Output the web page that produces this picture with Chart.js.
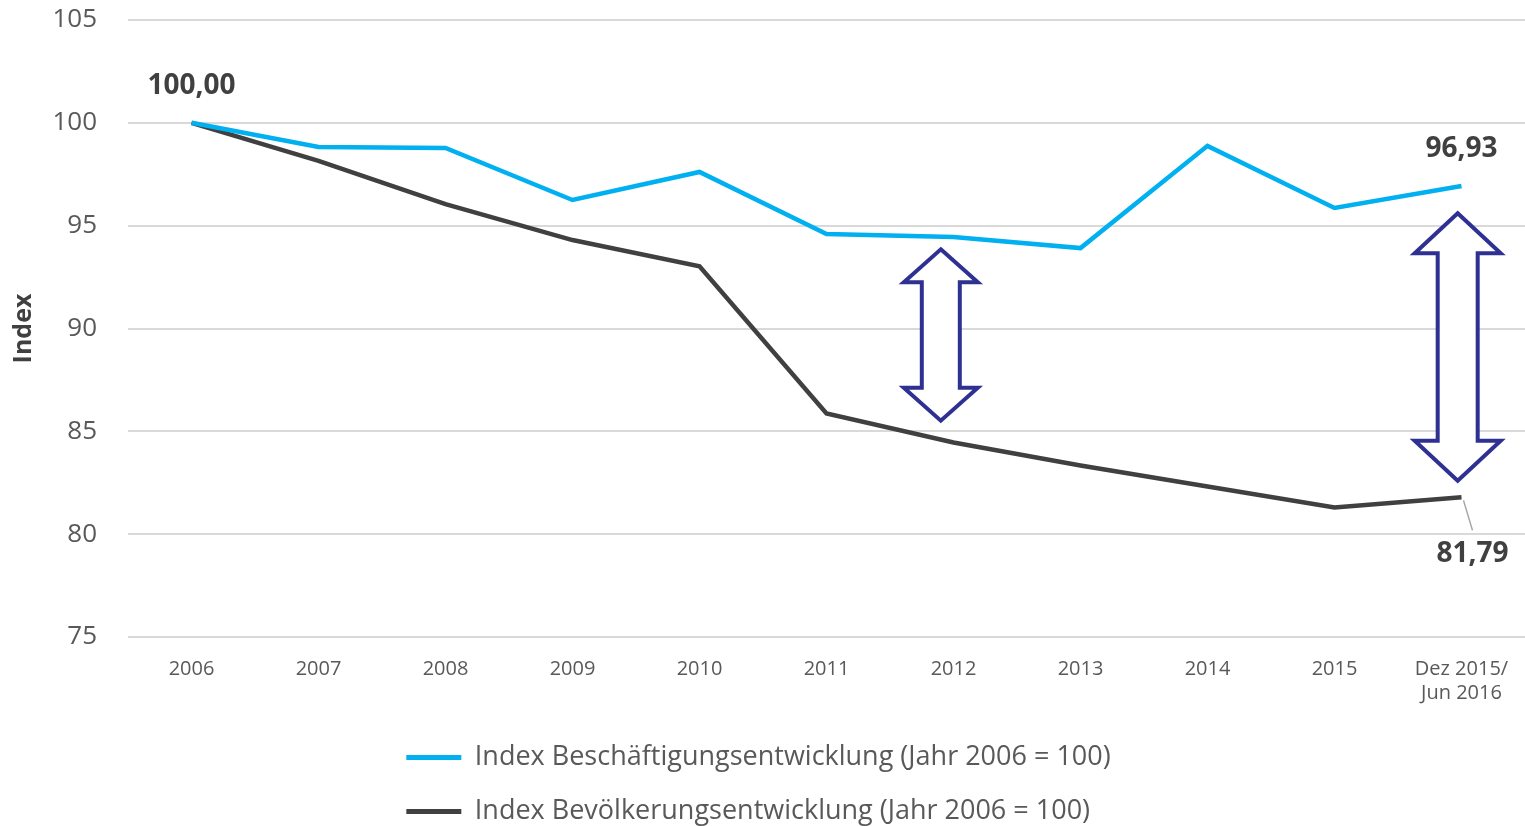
<!DOCTYPE html>
<html>
<head>
<meta charset="utf-8">
<script src="https://cdn.jsdelivr.net/npm/chart.js@4.4.1/dist/chart.umd.min.js"></script>
<style>
  html, body { margin: 0; padding: 0; background: #fff; }
  #wrap { width: 1525px; height: 826px; }
</style>
</head>
<body>
<div id="wrap"><canvas id="chart" width="1525" height="826"></canvas></div>
<script>
// Daten
const labels = ["2006", "2007", "2008", "2009", "2010", "2011", "2012", "2013", "2014", "2015", ["Dez 2015/", "Jun 2016"]];
const beschaeftigung = [100.0, 98.83, 98.78, 96.25, 97.61, 94.59, 94.45, 93.91, 98.88, 95.86, 96.93];
const bevoelkerung = [100.0, 98.15, 96.05, 94.3, 93.03, 85.87, 84.46, 83.34, 82.32, 81.3, 81.79];
const yTicks = [75, 80, 85, 90, 95, 100, 105];

// Doppelpfeile (Position in Achsen-Einheiten)
const arrows = [
  { x: 5.9, top: 93.85, bottom: 85.52, head: 74, shaft: 38, headLen: 33 },
  { x: 9.97, top: 95.6, bottom: 82.6, head: 86, shaft: 40, headLen: 40 },
];

const FONT = "'Open Sans', sans-serif";
const BLUE = "#00B0F0";
const DARK = "#404040";

const arrowPlugin = {
  id: "arrows",
  afterDatasetsDraw(chart) {
    const { ctx, scales } = chart;
    ctx.save();
    ctx.strokeStyle = "#2E3192";
    ctx.fillStyle = "#fff";
    ctx.lineWidth = 4;
    ctx.lineJoin = "miter";
    arrows.forEach((a) => {
      const cx = scales.x.getPixelForValue(a.x);
      const yt = scales.y.getPixelForValue(a.top);
      const yb = scales.y.getPixelForValue(a.bottom);
      const hw = a.head / 2, sw = a.shaft / 2;
      ctx.beginPath();
      ctx.moveTo(cx, yt);
      ctx.lineTo(cx + hw, yt + a.headLen);
      ctx.lineTo(cx + sw, yt + a.headLen);
      ctx.lineTo(cx + sw, yb - a.headLen);
      ctx.lineTo(cx + hw, yb - a.headLen);
      ctx.lineTo(cx, yb);
      ctx.lineTo(cx - hw, yb - a.headLen);
      ctx.lineTo(cx - sw, yb - a.headLen);
      ctx.lineTo(cx - sw, yt + a.headLen);
      ctx.lineTo(cx - hw, yt + a.headLen);
      ctx.closePath();
      ctx.fill();
      ctx.stroke();
    });
    ctx.restore();
  },
};

// Legende: immer zwei Zeilen, linksbündig untereinander
const legendRows = {
  id: "legendRows",
  beforeLayout(chart) {
    const lg = chart.legend;
    if (!lg || lg._rowsPatched) return;
    const fit = lg.fit.bind(lg);
    lg.fit = function () {
      this.maxWidth = 800;
      fit();
      this.height = 109;
    };
    lg._rowsPatched = true;
  },
  afterLayout(chart) {
    const lg = chart.legend;
    if (!lg || !lg.lineWidths) return;
    const pad = lg.options.labels.padding;
    const rowW = lg.lineWidths[0] - pad;
    lg.left = (chart.width - rowW) / 2 - pad - 4;
  },
};

const fmt = (v) => v.toFixed(2).replace(".", ",");

const labelPlugin = {
  id: "valueLabels",
  afterDatasetsDraw(chart) {
    const { ctx } = chart;
    const p0 = chart.getDatasetMeta(1).data[0];
    const n = labels.length - 1;
    const pb = chart.getDatasetMeta(0).data[n];
    const pd = chart.getDatasetMeta(1).data[n];
    ctx.save();
    ctx.font = "bold 28px " + FONT;
    ctx.fillStyle = DARK;
    ctx.textAlign = "center";
    ctx.textBaseline = "middle";
    ctx.fillText(fmt(bevoelkerung[0]), p0.x, p0.y - 37);
    ctx.fillText(fmt(beschaeftigung[n]), pb.x, pb.y - 37);
    ctx.fillText(fmt(bevoelkerung[n]), pd.x + 11, pd.y + 57);
    // Führungslinie
    ctx.strokeStyle = "#A6A6A6";
    ctx.lineWidth = 1.5;
    ctx.beginPath();
    ctx.moveTo(pd.x + 2, pd.y + 3);
    ctx.lineTo(pd.x + 11, pd.y + 33);
    ctx.stroke();
    ctx.restore();
  },
};

new Chart(document.getElementById("chart"), {
  type: "line",
  data: {
    labels,
    datasets: [
      {
        label: "Index Beschäftigungsentwicklung (Jahr 2006 = 100)",
        data: beschaeftigung,
        borderColor: BLUE,
        backgroundColor: BLUE,
        borderWidth: 4.5,
        pointRadius: 0,
        tension: 0,
      },
      {
        label: "Index Bevölkerungsentwicklung (Jahr 2006 = 100)",
        data: bevoelkerung,
        borderColor: DARK,
        backgroundColor: DARK,
        borderWidth: 4.5,
        pointRadius: 0,
        tension: 0,
      },
    ],
  },
  options: {
    responsive: false,
    animation: false,
    layout: { padding: { top: 0, right: 0, bottom: 0, left: 0 } },
    scales: {
      x: {
        offset: true,
        grid: { display: false },
        border: { display: false },
        ticks: { font: { family: FONT, size: 20 }, color: "#595959", padding: 12, maxRotation: 0 },
      },
      y: {
        min: 75,
        max: 105,
        afterBuildTicks: (s) => { s.ticks = yTicks.map((v) => ({ value: v })); },
        afterFit: (s) => {
          s.width = 128;
          s.paddingTop = 20;
          s.paddingBottom = 0;
        },
        grid: { color: "#D9D9D9", lineWidth: 2, drawTicks: false },
        border: { display: false },
        ticks: { font: { family: FONT, size: 26 }, color: "#595959", padding: 31 },
        title: { display: true, text: "Index", font: { family: FONT, size: 25, weight: "bold" }, color: DARK, padding: { top: 9, bottom: 0 } },
      },
    },
    plugins: {
      tooltip: { enabled: false },
      legend: {
        position: "bottom",
        align: "start",
        labels: {
          font: { family: FONT, size: 27 },
          color: "#595959",
          boxWidth: 55,
          boxHeight: 5,
          padding: 27,
          generateLabels: (chart) =>
            Chart.defaults.plugins.legend.labels.generateLabels(chart).map((l) => ({ ...l, lineWidth: 0, fillStyle: l.strokeStyle })),
        },
      },
    },
  },
  plugins: [arrowPlugin, labelPlugin, legendRows],
});
</script>
</body>
</html>
